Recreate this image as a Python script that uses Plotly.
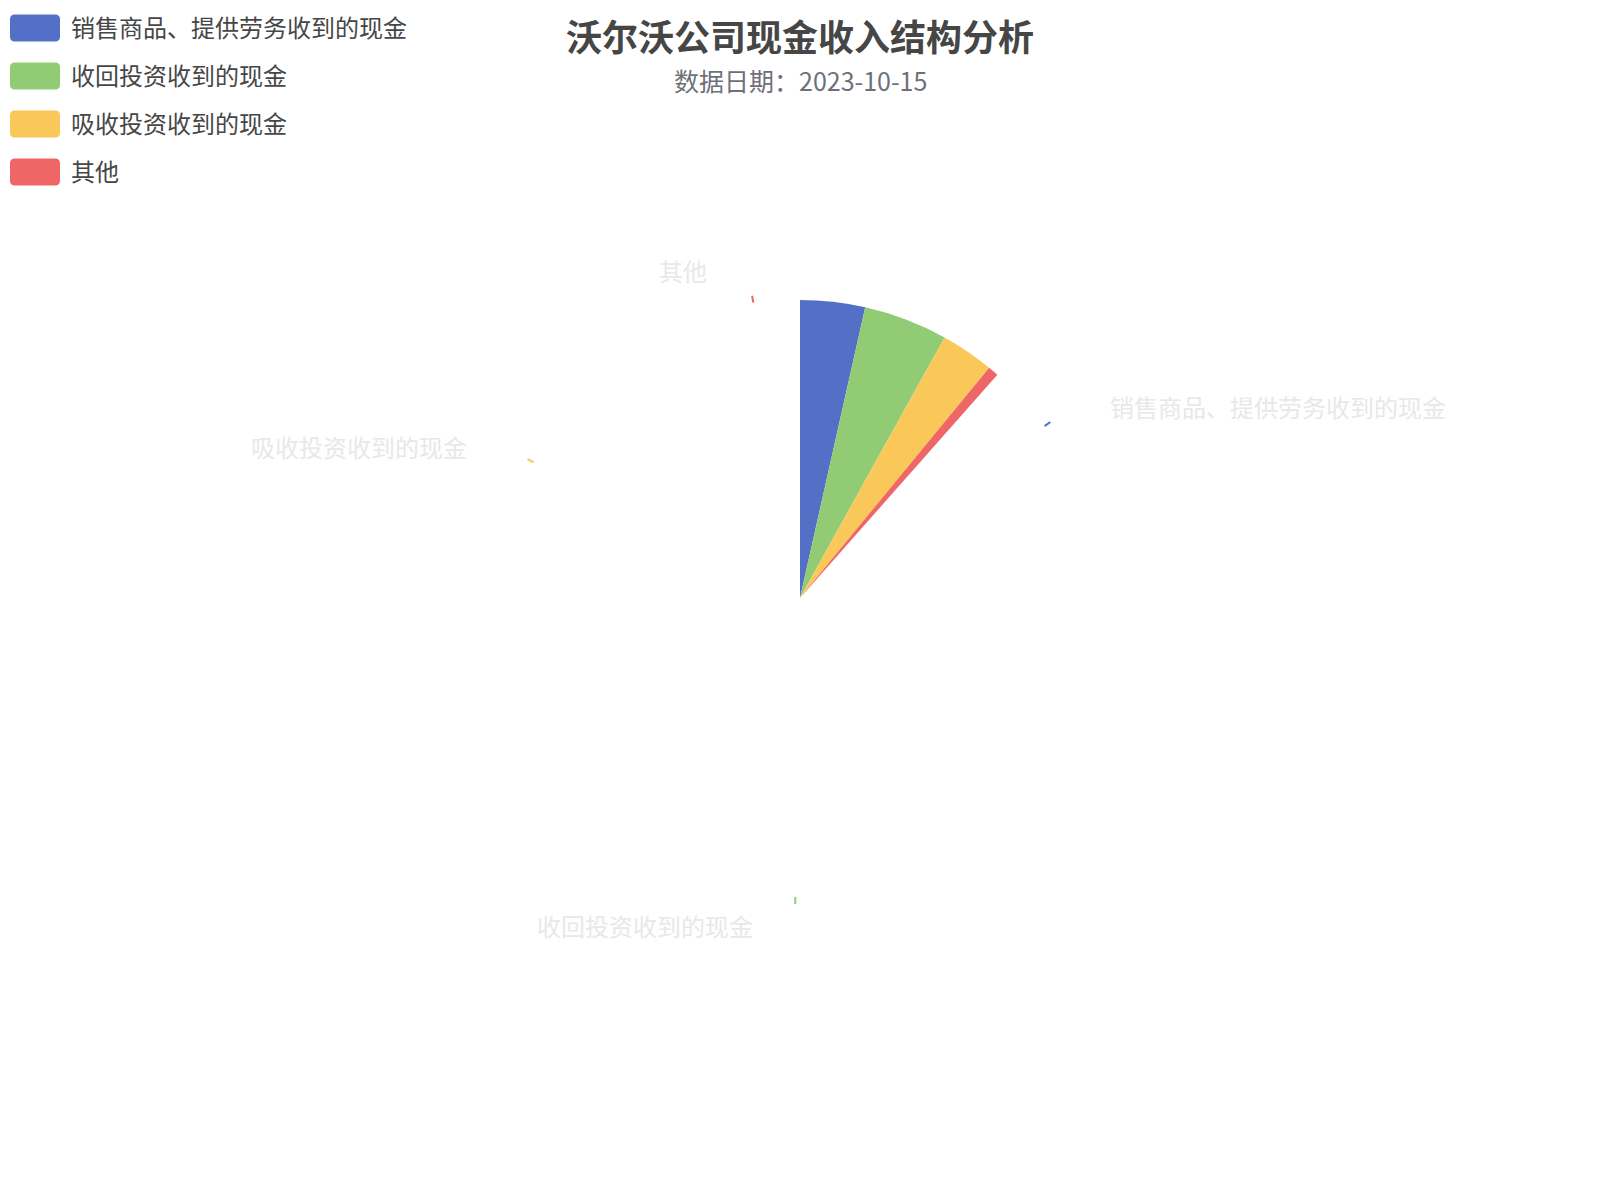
import math
import plotly.graph_objects as go

# ---------------- data ----------------
categories = ["销售商品、提供劳务收到的现金", "收回投资收到的现金", "吸收投资收到的现金", "其他"]
values = [30.5, 39.5, 25.0, 5.0]          # share of cash income (%)
colors = ["#5470c6", "#91cc75", "#fac858", "#ee6666"]
title_text = "沃尔沃公司现金收入结构分析"
subtitle_text = "数据日期：2023-10-15"

# ---------------- layout constants ----------------
PAGE_MARGIN = 8            # default body margin of the html page
W, H = 1600 - 2 * PAGE_MARGIN, 1200 - 2 * PAGE_MARGIN
CX, CY = 800, 598          # pie centre (page px)
R_PIE = 298                # pie radius (px)
R_AXIS = 320               # polar axis radius (px)
PROGRESS = 0.1152          # opening-animation progress captured in the reference
R_LABEL_X, R_LABEL_Y = 327, 330   # label anchor radius
LABEL_GAP = 40
FONT = "Noto Sans CJK SC"


def px(x):
    return (x - PAGE_MARGIN) / W


def py(y):
    return 1 - (y - PAGE_MARGIN) / H


total = sum(values)
starts, ends = [], []
acc = 0.0
for v in values:
    starts.append(acc / total * 360)
    acc += v
    ends.append(acc / total * 360)
full_mid = [(s + e) / 2 for s, e in zip(starts, ends)]
anim_theta = [m * PROGRESS for m in full_mid]
anim_width = [(e - s) * PROGRESS for s, e in zip(starts, ends)]

fig = go.Figure()
fig.add_trace(go.Barpolar(
    r=[R_PIE] * len(values), theta=anim_theta, width=anim_width,
    marker=dict(color=colors, line=dict(width=0)),
    text=categories, hoverinfo="text", showlegend=False,
))

for i, c in enumerate(colors):
    fig.add_trace(go.Scatterpolar(
        r=[R_PIE + 1, R_PIE + 8], theta=[full_mid[i], full_mid[i]],
        mode="lines", line=dict(color=c, width=2),
        hoverinfo="skip", showlegend=False,
    ))

annotations = []
for i, name in enumerate(categories):
    a = math.radians(full_mid[i])
    lx = CX + R_LABEL_X * math.sin(a)
    ly = CY - R_LABEL_Y * math.cos(a)
    right = math.sin(a) > 0.01
    annotations.append(dict(
        x=px(lx + LABEL_GAP if right else lx - LABEL_GAP), y=py(ly - 2),
        xref="paper", yref="paper", text=name, showarrow=False,
        xanchor="left" if right else "right", yanchor="middle",
        font=dict(family=FONT, size=24, color="#e8e8e8"),
    ))

annotations.append(dict(
    x=px(800), y=py(PAGE_MARGIN), xref="paper", yref="paper", text=title_text, showarrow=False,
    xanchor="center", yanchor="top", borderpad=0,
    font=dict(family=FONT, size=36, color="#464646", weight="bold"),
))
annotations.append(dict(
    x=px(800), y=py(80), xref="paper", yref="paper", text=subtitle_text, showarrow=False,
    xanchor="center", yanchor="middle", borderpad=0,
    font=dict(family=FONT, size=25, color="#6e7079"),
))


def rrect(x0, y0, x1, y1, r):
    pts = [
        ("M", [(x0 + r, y0)]), ("L", [(x1 - r, y0)]), ("Q", [(x1, y0), (x1, y0 + r)]),
        ("L", [(x1, y1 - r)]), ("Q", [(x1, y1), (x1 - r, y1)]),
        ("L", [(x0 + r, y1)]), ("Q", [(x0, y1), (x0, y1 - r)]),
        ("L", [(x0, y0 + r)]), ("Q", [(x0, y0), (x0 + r, y0)]),
    ]
    s = ""
    for cmd, ps in pts:
        s += cmd + " " + " ".join(f"{px(x):.6f},{py(y):.6f}" for x, y in ps) + " "
    return s + "Z"


shapes = []
LEG_X0, LEG_Y0, LEG_STEP = 10, 28, 48
for i, (name, c) in enumerate(zip(categories, colors)):
    yc = LEG_Y0 + i * LEG_STEP
    shapes.append(dict(type="path", xref="paper", yref="paper",
                       path=rrect(LEG_X0, yc - 13.5, LEG_X0 + 50, yc + 13.5, 5),
                       fillcolor=c, line=dict(width=0)))
    annotations.append(dict(
        x=px(LEG_X0 + 60), y=py(yc - 1.5), xref="paper", yref="paper", text=name,
        showarrow=False, xanchor="left", yanchor="middle", borderpad=0,
        font=dict(family=FONT, size=24, color="#464646"),
    ))

fig.update_layout(
    width=W, height=H, margin=dict(l=0, r=0, t=0, b=0),
    paper_bgcolor="white", plot_bgcolor="white",
    polar=dict(
        domain=dict(x=[px(CX - R_AXIS), px(CX + R_AXIS)],
                    y=[py(CY + R_AXIS), py(CY - R_AXIS)]),
        bgcolor="rgba(0,0,0,0)",
        radialaxis=dict(visible=False, range=[0, R_AXIS]),
        angularaxis=dict(visible=False, rotation=90, direction="clockwise"),
    ),
    annotations=annotations, shapes=shapes,
    font=dict(family=FONT),
)

fig.write_html("out.html")
